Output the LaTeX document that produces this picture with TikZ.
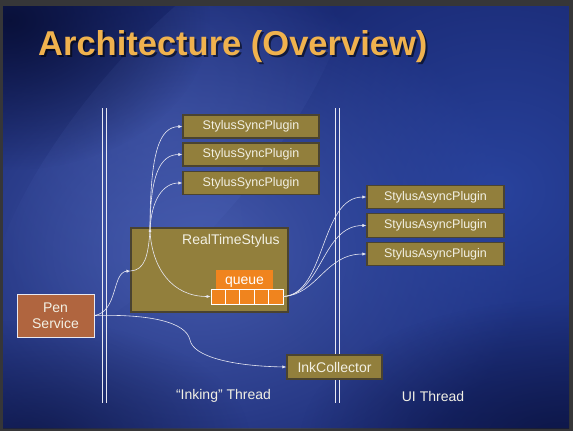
\documentclass[tikz,border=0pt]{standalone}
\usepackage{fontspec}
\setmainfont{Liberation Sans}
\usetikzlibrary{arrows.meta,fadings}

\definecolor{framec}{HTML}{363638}
\definecolor{bgbase}{HTML}{1A2A74}
\definecolor{bglight}{HTML}{4A60B4}
\definecolor{bgright}{HTML}{2C48A6}
\definecolor{bgdark}{HTML}{080E34}
\definecolor{titlec}{HTML}{F0B24E}
\definecolor{olivec}{HTML}{927F3C}
\definecolor{oliveedge}{HTML}{4A4330}
\definecolor{penc}{HTML}{B0653F}
\definecolor{queuec}{HTML}{F0841E}
\definecolor{linec}{HTML}{E8E8F2}
\definecolor{textc}{HTML}{F2F0E4}

\tikzfading[name=softspot, inner color=transparent!0, outer color=transparent!100]

\tikzset{
  x=1pt, y=-1pt,
  txt/.style={text=textc, font=\fontsize{12.5}{15}\selectfont},
  bigtxt/.style={text=textc, font=\fontsize{14}{16}\selectfont},
  plugin/.style={rectangle, fill=olivec, draw=oliveedge, line width=1.2pt,
    inner sep=0pt, txt},
  cell/.style={rectangle, fill=queuec, draw=white, line width=0.8pt,
    minimum width=14.4pt, minimum height=15pt, inner sep=0pt},
  conn/.style={draw=linec, line width=0.6pt, -{Latex[length=4pt,width=3.2pt]}},
  link/.style={draw=linec, line width=0.6pt},
  rail/.style={draw=linec, line width=0.8pt},
}

\begin{document}
\begin{tikzpicture}
\useasboundingbox (0,0) rectangle (573,431);

% slide frame and background
\fill[framec] (0,0) rectangle (573,431);
\begin{scope}
  \clip (3,6) rectangle (569,428);
  \fill[bgbase] (3,6) rectangle (569,428);
  \fill[bglight, opacity=0.9, path fading=softspot] (200,250) ellipse (330 and 260);
  \fill[bgright, opacity=0.8, path fading=softspot] (500,190) ellipse (260 and 240);
  \fill[bglight, opacity=0.45, path fading=softspot, rotate around={-40:(170,140)}]
    (170,140) ellipse (90 and 260);
  \fill[bgdark, opacity=0.9, path fading=softspot] (10,20) ellipse (200 and 150);
  \fill[bgdark, opacity=0.7, path fading=softspot] (560,440) ellipse (260 and 140);
  \fill[bgdark, opacity=0.6, path fading=softspot] (30,440) ellipse (220 and 120);
\end{scope}

% title with drop shadow
\node[anchor=base west, inner sep=0pt, text=black, opacity=0.55,
  font=\fontsize{34.5}{40}\selectfont\bfseries] (titleshadow) at (40,57) {Architecture (Overview)};
\node[anchor=base west, inner sep=0pt, text=titlec,
  font=\fontsize{34.5}{40}\selectfont\bfseries] (title) at (38,55) {Architecture (Overview)};

% thread boundaries
\draw[rail] (102.5,108) -- (102.5,403);
\draw[rail] (106.5,108) -- (106.5,403);
\draw[rail] (335,108) -- (335,403);
\draw[rail] (339.5,108) -- (339.5,403);

% synchronous plugins
\node[plugin, minimum width=136pt, minimum height=23pt] (sync1) at (251,126.5) {StylusSyncPlugin};
\node[plugin, minimum width=136pt, minimum height=23pt] (sync2) at (251,154.5) {StylusSyncPlugin};
\node[plugin, minimum width=136pt, minimum height=23pt] (sync3) at (251,183) {StylusSyncPlugin};

% asynchronous plugins
\node[plugin, minimum width=137pt, minimum height=23.5pt] (async1) at (435.5,197) {StylusAsyncPlugin};
\node[plugin, minimum width=137pt, minimum height=23.5pt] (async2) at (435.5,225.5) {StylusAsyncPlugin};
\node[plugin, minimum width=137pt, minimum height=23.5pt] (async3) at (435.5,254) {StylusAsyncPlugin};

% RealTimeStylus with its queue
\node[plugin, minimum width=157pt, minimum height=84pt] (rts) at (209.5,270) {};
\node[bigtxt, inner sep=0pt] (rtslabel) at (231,241) {RealTimeStylus};
\node[rectangle, fill=queuec, minimum width=57pt, minimum height=19pt, inner sep=0pt] (qtab) at (244.5,279.5) {};
\node[bigtxt, text=white, inner sep=0pt] (qlabel) at (244.5,282.5) {queue};
\node[cell] (cell1) at (218.2,296.5) {};
\node[cell] (cell2) at (232.6,296.5) {};
\node[cell] (cell3) at (247.0,296.5) {};
\node[cell] (cell4) at (261.4,296.5) {};
\node[cell] (cell5) at (275.8,296.5) {};

% pen service and ink collector
\node[rectangle, fill=penc, draw=linec, line width=0.8pt, minimum width=77pt,
  minimum height=43pt, inner sep=0pt, align=center,
  text=textc, font=\fontsize{14}{16}\selectfont] (pen) at (55.5,315.5) {Pen\\Service};
\node[plugin, bigtxt, minimum width=95pt, minimum height=24pt] (ink) at (334.5,367) {InkCollector};

% thread captions
\node[bigtxt, inner sep=0pt] (inklbl) at (223.5,396) {“Inking” Thread};
\node[bigtxt, inner sep=0pt] (uilbl) at (433,396) {UI Thread};

% connectors
\coordinate (rtsin) at (130.5,271);
\coordinate (hub) at (150,231);
\draw[conn] (pen.east) .. controls (118,312) and (112,272) .. (rtsin);
\draw[link] (rtsin) .. controls (145,270) and (148,256) .. (hub);
\fill[linec] (hub) circle (1.5pt);
\draw[conn] (hub) .. controls (150,150) and (160,127) .. (sync1.west);
\draw[conn] (hub) .. controls (150,175) and (160,154.5) .. (sync2.west);
\draw[conn] (hub) .. controls (151,200) and (163,183) .. (sync3.west);
\draw[conn] (hub) .. controls (152,268) and (172,296.5) .. (cell1.west);
\draw[conn] (cell5.east) .. controls (326,294) and (320,197) .. (async1.west);
\draw[conn] (cell5.east) .. controls (322,294) and (322,225.5) .. (async2.west);
\draw[conn] (cell5.east) .. controls (318,294) and (325,254) .. (async3.west);
\draw[conn] (pen.east) .. controls (150,314) and (186,322) .. (190,340)
  .. controls (193,356) and (230,366) .. (ink.west);
\end{tikzpicture}
\end{document}
